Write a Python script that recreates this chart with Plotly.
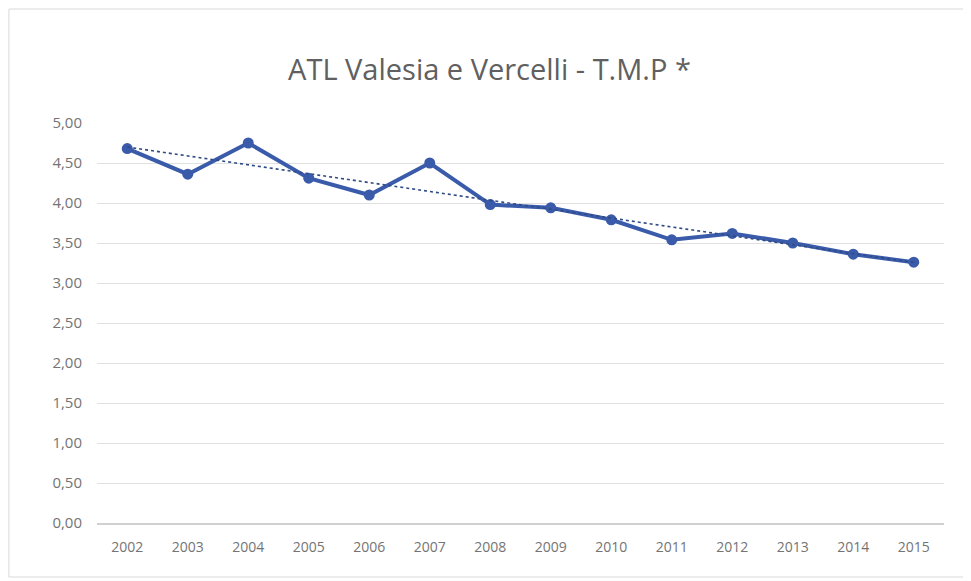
import numpy as np
import plotly.graph_objects as go

years = ['2002', '2003', '2004', '2005', '2006', '2007', '2008',
         '2009', '2010', '2011', '2012', '2013', '2014', '2015']
tmp = [4.68, 4.36, 4.75, 4.31, 4.10, 4.50, 3.98,
       3.94, 3.79, 3.54, 3.62, 3.50, 3.36, 3.26]

# linear trendline as in the spreadsheet chart
idx = np.arange(len(years))
slope, icpt = np.polyfit(idx, tmp, 1)
trend = slope * idx + icpt

FONT = "Open Sans"

fig = go.Figure()
fig.add_trace(go.Scatter(x=years, y=tmp, mode='lines+markers', name='T.M.P',
                         line=dict(color='#3a5ba9', width=4),
                         marker=dict(color='#3a5ba9', size=11)))
fig.add_trace(go.Scatter(x=years, y=trend, mode='lines', name='trend',
                         line=dict(color='#2f4a86', width=1.6, dash='dot')))

# page body has an 8px margin, so the figure is 8px smaller than the window
fig.update_layout(
    width=963, height=573,
    title=dict(text='ATL Valesia e Vercelli - T.M.P *', x=0.5, xanchor='center',
               y=0.892, yanchor='middle',
               font=dict(family=FONT, size=29, color='#606060')),
    showlegend=False,
    separators=',.',
    plot_bgcolor='white',
    paper_bgcolor='white',
    margin=dict(l=89, r=27, t=115, b=58),
    font=dict(family=FONT, size=14, color='#747474'),
)
fig.update_xaxes(type='category', range=[-0.5, 13.5], showgrid=False, showline=True,
                 linecolor='#d0d0d0', linewidth=1.5, ticks='', ticklabelstandoff=10)
fig.update_yaxes(range=[0, 5], dtick=0.5, tickformat='.2f', gridcolor='#e0e0e0',
                 gridwidth=1.2, zeroline=False, showline=False, ticklabelstandoff=14,
                 tickfont=dict(size=15))

fig.add_shape(type='rect', xref='paper', yref='paper', x0=-0.104, x1=1.028,
              y0=-0.135, y1=1.285, line=dict(color='#d9d9d9', width=1))

fig.write_html("out.html")
